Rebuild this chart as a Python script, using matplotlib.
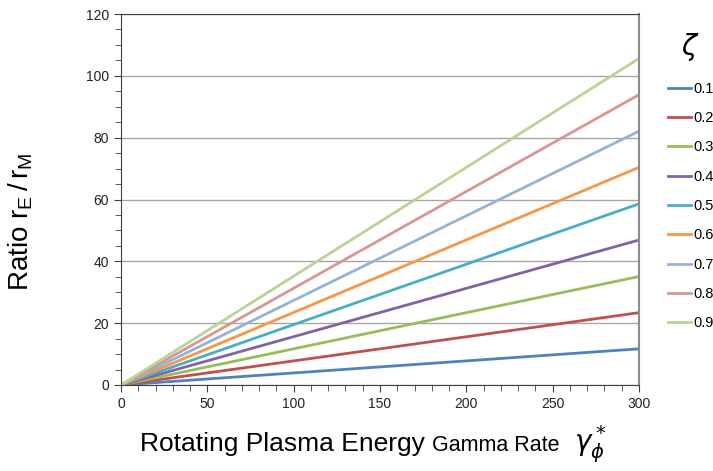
import matplotlib
matplotlib.use("Agg")
import matplotlib.pyplot as plt
from matplotlib.ticker import MultipleLocator

# gamma rate range and ratio at the right end for each zeta
gamma = [0, 300]
zetas = ["0.1", "0.2", "0.3", "0.4", "0.5", "0.6", "0.7", "0.8", "0.9"]
ratio_end = [11.7, 23.4, 35.1, 46.9, 58.6, 70.4, 82.1, 93.9, 105.6]
colors = ["#4F81BD", "#C0504D", "#9BBB59", "#8064A2", "#4BACC6",
          "#F79646", "#95B3D7", "#D99694", "#B9D493"]

plt.rcParams['font.family'] = ['Liberation Sans', 'DejaVu Sans']

fig = plt.figure(figsize=(7.13, 4.71), dpi=100)
ax = fig.add_axes([121/713, 1 - 385/471, (639 - 121)/713, (385 - 14)/471])

lines = []
for z, r, c in zip(zetas, ratio_end, colors):
    ln, = ax.plot(gamma, [0, r], color=c, lw=2, label=z)
    lines.append(ln)

ax.set_xlim(0, 300)
ax.set_ylim(0, 120)
ax.xaxis.set_major_locator(MultipleLocator(50))
ax.xaxis.set_minor_locator(MultipleLocator(10))
ax.yaxis.set_major_locator(MultipleLocator(20))
ax.yaxis.set_minor_locator(MultipleLocator(5))
ax.tick_params(axis='both', which='both', direction='out', color='#404040',
               labelsize=10, labelcolor='#222222')
ax.tick_params(which='major', length=5)
ax.tick_params(which='minor', length=4)
ax.yaxis.grid(True, which='major', color='#A6A6A6', lw=1)
ax.set_axisbelow(True)
for s in ['left', 'bottom', 'top']:
    ax.spines[s].set_color('#404040')
ax.spines['right'].set_color('#8C8C8C')
ax.spines['right'].set_linewidth(1.5)

ax.set_ylabel(r"Ratio $\mathregular{r_E\,/\,r_M}$", fontsize=20)
ax.yaxis.set_label_coords(-86/518, 0.44)

fig.text(140/713, 1 - 451/471, "Rotating Plasma Energy", fontsize=19)
fig.text(432/713, 1 - 451/471, "Gamma Rate", fontsize=15.5)
fig.text(574/713, 1 - 451/471, r"$\gamma_\phi^*$", fontsize=20)

fig.text(690/713, 1 - 47/471, r"$\zeta$", fontsize=20, ha='center', va='center')
fig.legend(handles=lines, loc='upper left', bbox_to_anchor=(662/713, 1 - 76/471),
           frameon=False, fontsize=10.5, handlelength=1.6, handletextpad=0.15,
           labelspacing=1.05, borderaxespad=0)

fig.savefig("out.png", dpi=100)
